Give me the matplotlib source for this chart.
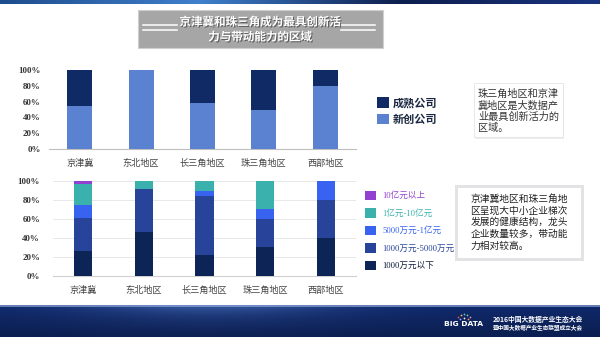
import matplotlib
matplotlib.use("Agg")
import matplotlib.pyplot as plt
import matplotlib.patches as mpatches
import matplotlib.patheffects as pe
import numpy as np

plt.rcParams['font.family'] = ['Noto Sans CJK SC', 'DejaVu Sans']

# ---------------- data ----------------
categories = ["京津冀", "东北地区", "长三角地区", "珠三角地区", "西部地区"]

top_series = ["成熟公司", "新创公司"]
new_share = [0.55, 1.00, 0.58, 0.50, 0.80]
mature_share = [0.45, 0.00, 0.42, 0.50, 0.20]

size_labels = ["1000万元以下", "1000万元-5000万元", "5000万元-1亿元", "1亿元-10亿元", "10亿元以上"]
size_lt1000 = [0.26, 0.46, 0.22, 0.30, 0.40]
size_1000_5000 = [0.35, 0.45, 0.62, 0.30, 0.40]
size_5000_1e8 = [0.135, 0.00, 0.05, 0.10, 0.20]
size_1e8_1e9 = [0.22, 0.09, 0.11, 0.30, 0.00]
size_gt1e9 = [0.035, 0.00, 0.00, 0.00, 0.00]

yticks = [0, 0.2, 0.4, 0.6, 0.8, 1.0]
ytick_labels = ["0%", "20%", "40%", "60%", "80%", "100%"]

title_lines = ["京津冀和珠三角成为最具创新活", "力与带动能力的区域"]
note_top = "珠三角地区和京津\n冀地区是大数据产\n业最具创新活力的\n区域。"
note_bottom = "京津冀地区和珠三角地\n区呈现大中小企业梯次\n发展的健康结构，龙头\n企业数量较多，带动能\n力相对较高。"
footer_lines = ["2016中国大数据产业生态大会", "暨中国大数据产业生态联盟成立大会"]

# ---------------- styles ----------------
W, H = 600, 337
fig = plt.figure(figsize=(6, 3.37), dpi=100)
fig.patch.set_facecolor("white")

def fx(x): return x / W
def fy(y): return 1 - y / H

serif = ['Liberation Serif', 'Noto Sans CJK SC']
c_mature = "#102a66"
c_new = "#5a82d0"
size_colors = ["#0d2457", "#28449a", "#3862f0", "#3bb1ad", "#9140d2"]

# ---------------- banners ----------------
bg = fig.add_axes([0, 0, 1, 1], zorder=-10)
bg.set_xlim(0, W); bg.set_ylim(H, 0); bg.axis("off")
grad = np.linspace(0, 1, 256)
top_cols = np.array([[0.12, 0.30, 0.55], [0.25, 0.50, 0.80], [0.05, 0.12, 0.30], [0.10, 0.20, 0.50]])
xs = np.linspace(0, 1, len(top_cols))
img = np.stack([np.interp(grad, xs, top_cols[:, k]) for k in range(3)], axis=-1)[None, :, :]
bg.imshow(img, extent=(0, W, 4.5, 0), aspect="auto")
ny = 40
yy = np.linspace(0, 1, ny)[:, None]
xx = np.linspace(0, 1, 300)[None, :]
base = np.array([0.06, 0.16, 0.42])
light = np.array([0.30, 0.45, 0.75])
glow = np.exp(-((xx - 0.35) ** 2) / 0.05) * np.exp(-yy / 0.35)
img2 = base[None, None, :] * (1 - 0.25 * yy[..., None]) + (light - base)[None, None, :] * glow[..., None] * 0.7
img2 = np.clip(img2, 0, 1)
bg.imshow(img2, extent=(0, W, H, 305), aspect="auto")
bg.plot([0, W], [305.5, 305.5], color="#8fa8d8", lw=1.2, alpha=0.8)

# footer texts
fig.text(fx(493), fy(319), footer_lines[0], color="white", fontsize=4.9, fontweight="bold", va="center", ha="left")
fig.text(fx(493), fy(327.5), footer_lines[1], color="white", fontsize=4.1, fontweight="bold", va="center", ha="left")
fig.text(fx(464), fy(324), "BIG DATA", color="white", fontsize=5.4, fontweight="bold", va="center", ha="center", family="DejaVu Sans")
for dx, dy, cc in [(-6, 317, "#e05050"), (-3, 315, "#f0c040"), (0, 314, "#50c0f0"), (3, 315, "#80d080"), (6, 317, "#e080e0"),
                   (-4, 319, "#90a0ff"), (0, 318, "#f0f0f0"), (4, 319, "#ff9040")]:
    bg.plot(464 + dx, dy, "o", ms=1.3, color=cc, mec="none")

# ---------------- title box ----------------
bg.add_patch(mpatches.Rectangle((138, 10), 245, 38, facecolor="#a6a6a6", edgecolor="#cfcfcf", lw=0.8))
for x0, x1 in [(143, 177), (341, 375)]:
    for yv in (25, 29.5):
        bg.plot([x0, x1], [yv, yv], color="white", lw=1.1)
shadow = [pe.withSimplePatchShadow(offset=(0.8, -0.8), shadow_rgbFace="#404040", alpha=0.7)]
fig.text(fx(260), fy(22), title_lines[0], color="white", fontsize=8.3, fontweight="bold", ha="center", va="center", path_effects=shadow)
fig.text(fx(260), fy(37), title_lines[1], color="white", fontsize=8.3, fontweight="bold", ha="center", va="center", path_effects=shadow)

# ---------------- top chart ----------------
ax1 = fig.add_axes([fx(49), fy(149), fx(307), 79 / H])
x = np.arange(len(categories))
b_new = ax1.bar(x, new_share, width=0.41, color=c_new, label=top_series[1], zorder=3)
b_mat = ax1.bar(x, mature_share, width=0.41, bottom=new_share, color=c_mature, label=top_series[0], zorder=3)
ax1.set_xlim(-0.5, len(categories) - 0.5)
ax1.set_ylim(0, 1)
ax1.set_yticks(yticks)
ax1.set_yticklabels(ytick_labels)
ax1.set_xticks(x)
ax1.set_xticklabels(categories)
for s in ["top", "right", "left"]:
    ax1.spines[s].set_visible(False)
ax1.spines["bottom"].set_color("#bfbfbf")
ax1.tick_params(axis="both", length=0)
ax1.tick_params(axis="y", pad=6, labelsize=6.4, labelcolor="#333333")
ax1.tick_params(axis="x", pad=7, labelsize=6.6, labelcolor="#444444")
for t in ax1.get_yticklabels():
    t.set_family(serif); t.set_fontweight("bold")
ax1.patch.set_alpha(0)

leg1 = fig.legend(handles=[b_mat, b_new], labels=[top_series[0], top_series[1]],
                  loc="upper left", bbox_to_anchor=(fx(375), fy(94)), frameon=False,
                  prop={"size": 8, "weight": "bold"}, handlelength=1.05, handleheight=1.05,
                  handletextpad=0.35, labelspacing=0.3, borderaxespad=0, borderpad=0.2)
for t in leg1.get_texts():
    t.set_color("#1b2740")

# ---------------- top note ----------------
bg.add_patch(mpatches.Rectangle((475, 85), 89, 54, facecolor="#e9e9ee", edgecolor="none", alpha=0.8))
bg.add_patch(mpatches.Rectangle((474, 83), 89, 54, facecolor="white", edgecolor="#e4e4e4", lw=0.6))
fig.text(fx(478), fy(89), note_top, fontsize=7.3, color="#333333", ha="left", va="top", linespacing=1.13)

# ---------------- bottom chart ----------------
ax2 = fig.add_axes([fx(52.6), fy(276), fx(303.8), 95.3 / H])
series = [size_lt1000, size_1000_5000, size_5000_1e8, size_1e8_1e9, size_gt1e9]
bottom = np.zeros(len(categories))
handles = []
for vals, col, lab in zip(series, size_colors, size_labels):
    h = ax2.bar(x, vals, width=0.30, bottom=bottom, color=col, label=lab, zorder=3)
    handles.append(h)
    bottom = bottom + np.array(vals)
ax2.set_xlim(-0.5, len(categories) - 0.5)
ax2.set_ylim(0, 1)
ax2.set_yticks(yticks)
ax2.set_yticklabels(ytick_labels)
ax2.set_xticks(x)
ax2.set_xticklabels(categories)
ax2.grid(axis="y", color="#e8e8e8", lw=0.7, zorder=0)
for s in ["top", "right", "left"]:
    ax2.spines[s].set_visible(False)
ax2.spines["bottom"].set_color("#d0d0d0")
ax2.tick_params(axis="both", length=0)
ax2.tick_params(axis="y", pad=9, labelsize=6.4, labelcolor="#333333")
ax2.tick_params(axis="x", pad=7, labelsize=6.6, labelcolor="#444444")
for t in ax2.get_yticklabels():
    t.set_family(serif); t.set_fontweight("bold")
ax2.patch.set_alpha(0)

leg2 = fig.legend(handles=handles[::-1], labels=size_labels[::-1], loc="upper left",
                  bbox_to_anchor=(fx(363), fy(189)), frameon=False,
                  prop={"size": 6.2, "family": serif}, handlelength=1.3, handleheight=1.3,
                  handletextpad=0.7, labelspacing=0.92, borderaxespad=0, borderpad=0.2)
for t, col in zip(leg2.get_texts(), size_colors[::-1]):
    t.set_color(col if col != "#0d2457" else "#0d1a3a")

# ---------------- bottom note ----------------
bg.add_patch(mpatches.Rectangle((455, 185), 129, 76, facecolor="#e3e3e6", edgecolor="none"))
bg.add_patch(mpatches.Rectangle((458, 188), 123, 70, facecolor="white", edgecolor="none"))
fig.text(fx(470.5), fy(194), note_bottom, fontsize=7.0, color="#222222", ha="left", va="top", linespacing=1.2)

fig.savefig("out.png", dpi=100)
